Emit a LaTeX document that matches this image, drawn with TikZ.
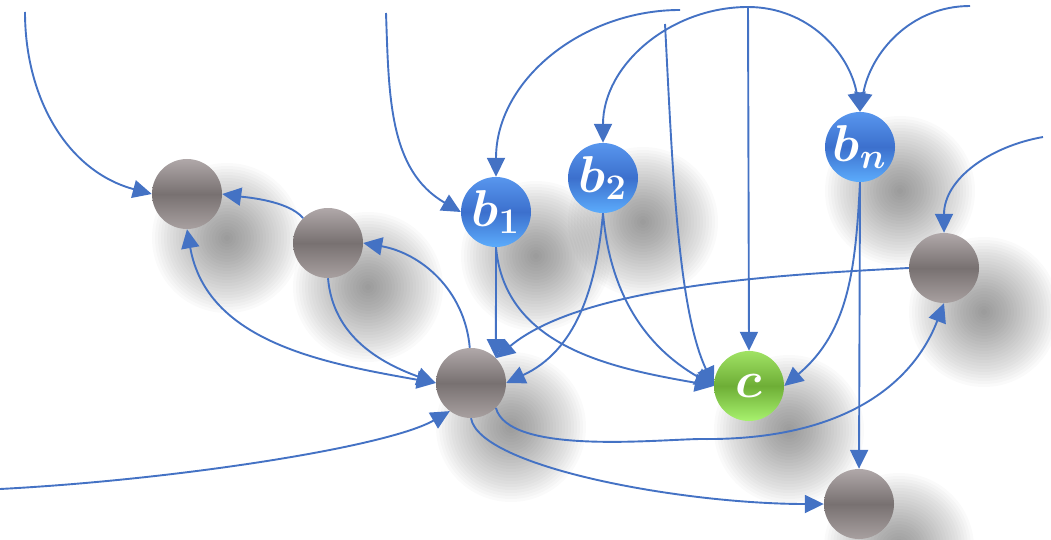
\documentclass[tikz,border=0pt]{standalone}
\usetikzlibrary{arrows.meta,backgrounds}

% Colori
\definecolor{bluarco}{RGB}{68,114,196}
\definecolor{grigioA}{RGB}{176,168,169}
\definecolor{grigioB}{RGB}{120,113,113}
\definecolor{grigioC}{RGB}{168,160,160}
\definecolor{bluA}{RGB}{88,150,238}
\definecolor{bluB}{RGB}{60,112,205}
\definecolor{bluC}{RGB}{92,172,252}
\definecolor{verdeA}{RGB}{160,226,100}
\definecolor{verdeB}{RGB}{110,174,54}
\definecolor{verdeC}{RGB}{168,242,110}

% Etichetta ingrandita dentro le sfere
\newcommand{\etich}[1]{\scalebox{3}{\LARGE\boldmath$#1$}}

\begin{document}
\begin{tikzpicture}[x=1pt, y=1pt, >={Triangle[length=19pt,width=18pt]}]
% Stili per le sfere e per gli archi
\tikzset{
  sfera/.style={circle, minimum size=70pt, inner sep=0pt, text=white},
  grigia/.style={sfera, top color=grigioA, bottom color=grigioC, middle color=grigioB},
  blu/.style={sfera, top color=bluA, bottom color=bluC, middle color=bluB},
  verde/.style={sfera, top color=verdeA, bottom color=verdeC, middle color=verdeB},
  arco/.style={draw=bluarco, line width=1.9pt}
}

\useasboundingbox (0,0) rectangle (1051,539);

% --- SFERE ---
\node[grigia] (G1) at (187,345) {};
\node[grigia] (G2) at (328,296) {};
\node[blu]    (B1) at (496,327) {\etich{b_1}};
\node[blu]    (B2) at (603,361) {\etich{b_2}};
\node[blu]    (Bn) at (860,392) {\etich{b_n}};
\node[grigia] (R)  at (944,271) {};
\node[grigia] (M)  at (471,156) {};
\node[verde]  (C)  at (749,153) {\etich{c}};
\node[grigia] (D)  at (859,35)  {};

% Estremi liberi degli archi
\coordinate (T1) at (25,527);
\coordinate (T2) at (386,526);
\coordinate (T3) at (680,529);
\coordinate (T4) at (665,515);
\coordinate (T5) at (748,532);
\coordinate (T6) at (970,533);
\coordinate (T7) at (1043,402);
\coordinate (T8) at (0,50);
\coordinate (K)  at (700,100);

% --- ARCHI ---
\draw[arco, ->] (T1) to[out=-90, in=165] (G1.west);
\draw[arco, ->] (G2.135) to[out=130, in=-8, looseness=0.7] (G1.east);
\draw[arco, <->] (G1.south) to[out=-80, in=170] (M.west);
\draw[arco, ->] (G2.south) to[out=-85, in=160] (M.west);
\draw[arco, ->] (M.92) to[out=95, in=-10] (G2.east);

\draw[arco, ->] (T2) to[out=-88, in=150] (B1.west);
\draw[arco, ->] (T3) to[out=180, in=90] (B1.north);
\draw[arco, ->] (T5) to[out=180, in=90] (B2.north);
\draw[arco, ->] (T5) -- (C.north);
\draw[arco, ->] (T5) to[out=0, in=100] (Bn.north);
\draw[arco, ->] (T6) to[out=180, in=80] (Bn.north);
\draw[arco, ->] (T4) to[out=-87, in=115, in looseness=0.6] (C.west);

\draw[arco, ->] (B1.south) -- (M.45);
\draw[arco, ->] (B1.south) to[out=-85, in=170] (C.west);
\draw[arco, ->] (B2.south) to[out=-95, in=25] (M.east);
\draw[arco, ->] (B2.south) to[out=-85, in=150] (C.west);
\draw[arco, ->] (Bn.south) to[out=-93, in=40] (C.east);
\draw[arco, ->] (Bn.south) -- (D.north);

\draw[arco, ->] (T7) to[out=190, in=90] (R.north);
\draw[arco, ->] (R.west) to[out=183, in=40, looseness=0.7] (M.45);
\draw[arco, ->] (M.-45) to[out=-75, in=181, looseness=0.6] (K)
   .. controls (850,98) and (915,160) .. (R.south);
\draw[arco, ->] (M.south) to[out=-80, in=180, out looseness=0.35] (D.west);
\draw[arco, ->] (T8) to[out=3, in=-150, in looseness=0.4] (M.-127);

% --- OMBRE SFUMATE ---
\begin{pgfonlayer}{background}
\foreach \n in {G1,G2,B1,B2,Bn,R,M,C,D}
  \foreach \k in {1,...,25}
    \fill[black, opacity=0.018] ([shift={(40,-44)}]\n.center) circle[radius={(78-3*\k)*1pt}];
\end{pgfonlayer}

\end{tikzpicture}
\end{document}
